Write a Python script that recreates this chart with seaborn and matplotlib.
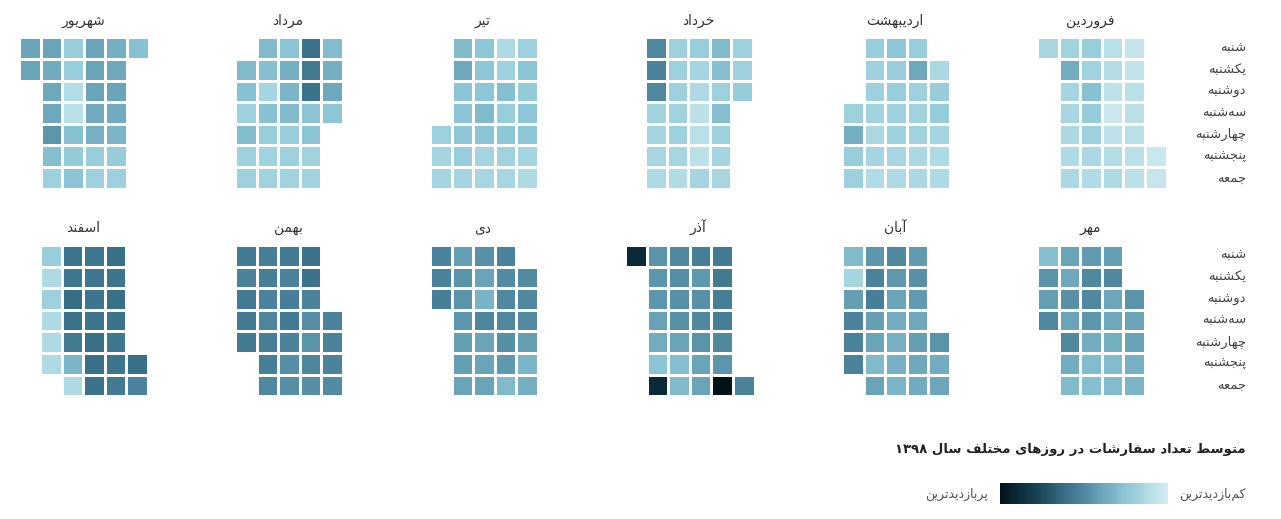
import re
import numpy as np
import matplotlib
matplotlib.use("Agg")
import matplotlib.pyplot as plt
import seaborn as sns
from matplotlib.colors import LinearSegmentedColormap, Normalize
from matplotlib.cm import ScalarMappable

N = None

# data: one grid per month, 7 weekday rows, columns as drawn (weeks run right to left)
# values are a 0-100 index, 0 = least visited, 100 = most visited
months = ["فروردین", "اردیبهشت", "خرداد", "تیر", "مرداد", "شهریور",
          "مهر", "آبان", "آذر", "دی", "بهمن", "اسفند"]
weekdays = ["شنبه", "یکشنبه", "دوشنبه", "سه‌شنبه", "چهارشنبه", "پنجشنبه", "جمعه"]

farvardin = [[15, 17, 20, 10, 6, N],
             [N, 36, 17, 11, 7, N],
             [N, 16, 27, 8, 10, N],
             [N, 15, 21, 4, 9, N],
             [N, 14, 18, 8, 10, N],
             [N, 13, 14, 11, 9, 4],
             [N, 14, 12, 13, 9, 5]]
ordibehesht = [[N, 20, 25, 20, N],
               [N, 18, 20, 38, 14],
               [N, 18, 20, 18, 21],
               [18, 17, 18, 17, 21],
               [35, 14, 18, 17, 16],
               [20, 16, 15, 14, 13],
               [18, 12, 13, 14, 13]]
khordad = [[50, 18, 20, 30, 18],
           [52, 18, 16, 28, 18],
           [50, 18, 13, 18, 21],
           [17, 17, 9, 28, N],
           [16, 18, 10, 18, N],
           [15, 15, 9, 16, N],
           [13, 12, 16, 15, N]]
tir = [[N, 30, 25, 13, 18],
       [N, 38, 25, 18, 26],
       [N, 26, 25, 28, 22],
       [N, 26, 30, 20, 25],
       [18, 25, 26, 25, 25],
       [16, 20, 16, 17, 16],
       [16, 16, 15, 15, 13]]
mordad = [[N, 30, 26, 60, 29],
          [30, 28, 35, 57, 35],
          [27, 16, 32, 60, 38],
          [18, 27, 30, 26, 25],
          [29, 20, 20, 26, N],
          [18, 17, 18, 17, N],
          [18, 17, 17, 17, N]]
shahrivar = [[40, 40, 20, 40, 35, 27],
             [40, 37, 20, 40, 38, N],
             [N, 38, 11, 40, 40, N],
             [N, 38, 10, 37, 37, N],
             [N, 45, 27, 34, 32, N],
             [N, 28, 22, 20, 21, N],
             [N, 18, 26, 18, 18, N]]
mehr = [[28, 40, 43, 42, N],
        [46, 38, 50, 50, N],
        [42, 47, 50, 39, 46],
        [50, 40, 45, 38, 40],
        [N, 50, 36, 35, 41],
        [N, 36, 29, 29, 34],
        [N, 30, 28, 29, 32]]
aban = [[30, 45, 50, 43, N],
        [16, 52, 44, 47, N],
        [42, 54, 40, 43, N],
        [52, 42, 36, 38, N],
        [52, 40, 34, 42, 46],
        [52, 30, 34, 38, 36],
        [N, 40, 32, 37, 39]]
azar = [[90, 46, 50, 55, 56, N],
        [N, 45, 48, 44, 57, N],
        [N, 45, 47, 47, 55, N],
        [N, 41, 47, 50, 54, N],
        [N, 36, 40, 46, 50, N],
        [N, 26, 28, 40, 45, N],
        [N, 90, 30, 40, 100, 52]]
dey = [[52, 42, 47, 52, N],
       [52, 46, 40, 49, 49],
       [54, 46, 33, 50, 50],
       [N, 45, 51, 50, 49],
       [N, 42, 40, 48, 42],
       [N, 42, 40, 44, 32],
       [N, 40, 40, 30, 35]]
bahman = [[56, 54, 56, 60, N],
          [52, 54, 52, 60, N],
          [56, 52, 54, 52, N],
          [56, 51, 56, 48, 52],
          [56, 54, 52, 46, 52],
          [N, 54, 48, 51, 52],
          [N, 50, 48, 48, 49]]
esfand = [[20, 59, 58, 61, N],
          [13, 58, 58, 59, N],
          [18, 62, 59, 61, N],
          [13, 60, 59, 60, N],
          [13, 57, 61, 58, N],
          [13, 32, 61, 59, 61],
          [N, 13, 60, 56, 52]]

grids = [farvardin, ordibehesht, khordad, tir, mordad, shahrivar,
         mehr, aban, azar, dey, bahman, esfand]

title = "متوسط تعداد سفارشات در روزهای مختلف سال ۱۳۹۸"
low_label = "کم‌بازدیدترین"
high_label = "پربازدیدترین"

# matplotlib has no arabic shaping, so pick presentation forms by hand
# (isolated, final, initial, medial)
FORMS = {
    "ا": ("\uFE8D", "\uFE8E", None, None),
    "آ": ("\uFE81", "\uFE82", None, None),
    "ب": ("\uFE8F", "\uFE90", "\uFE91", "\uFE92"),
    "پ": ("\uFB56", "\uFB57", "\uFB58", "\uFB59"),
    "ت": ("\uFE95", "\uFE96", "\uFE97", "\uFE98"),
    "ج": ("\uFE9D", "\uFE9E", "\uFE9F", "\uFEA0"),
    "چ": ("\uFB7A", "\uFB7B", "\uFB7C", "\uFB7D"),
    "خ": ("\uFEA5", "\uFEA6", "\uFEA7", "\uFEA8"),
    "د": ("\uFEA9", "\uFEAA", None, None),
    "ذ": ("\uFEAB", "\uFEAC", None, None),
    "ر": ("\uFEAD", "\uFEAE", None, None),
    "ز": ("\uFEAF", "\uFEB0", None, None),
    "س": ("\uFEB1", "\uFEB2", "\uFEB3", "\uFEB4"),
    "ش": ("\uFEB5", "\uFEB6", "\uFEB7", "\uFEB8"),
    "ط": ("\uFEC1", "\uFEC2", "\uFEC3", "\uFEC4"),
    "ع": ("\uFEC9", "\uFECA", "\uFECB", "\uFECC"),
    "ف": ("\uFED1", "\uFED2", "\uFED3", "\uFED4"),
    "ک": ("\uFB8E", "\uFB8F", "\uFB90", "\uFB91"),
    "ل": ("\uFEDD", "\uFEDE", "\uFEDF", "\uFEE0"),
    "م": ("\uFEE1", "\uFEE2", "\uFEE3", "\uFEE4"),
    "ن": ("\uFEE5", "\uFEE6", "\uFEE7", "\uFEE8"),
    "ه": ("\uFEE9", "\uFEEA", "\uFEEB", "\uFEEC"),
    "و": ("\uFEED", "\uFEEE", None, None),
    "ی": ("\uFBFC", "\uFBFD", "\uFBFE", "\uFBFF"),
}


def rtl(text):
    out = []
    for i, ch in enumerate(text):
        if ch not in FORMS:
            out.append("" if ch == "\u200c" else ch)
            continue
        prev = text[i - 1] if i > 0 else None
        nxt = text[i + 1] if i + 1 < len(text) else None
        jp = prev in FORMS and FORMS[prev][2] is not None
        jn = nxt in FORMS and FORMS[ch][2] is not None
        iso, fin, ini, med = FORMS[ch]
        out.append(med if (jp and jn) else fin if jp else ini if jn else iso)
    s = "".join(out)[::-1]
    return re.sub("[۰-۹0-9]+", lambda m: m.group(0)[::-1], s)


sns.set_style("white")
plt.rcParams["font.family"] = ["DejaVu Sans"]

cmap = LinearSegmentedColormap.from_list("visits", [
    (0.00, "#d4ecf1"), (0.10, "#b8dfe7"), (0.18, "#9dd1dd"), (0.25, "#8dc6d6"),
    (0.30, "#80b9cb"), (0.40, "#6aa4b9"), (0.50, "#4f889f"), (0.60, "#3a738b"),
    (0.75, "#1d4a5c"), (0.90, "#0a2a3a"), (1.00, "#03111a")])

W, H = 1281, 519
fig = plt.figure(figsize=(W / 100, H / 100), dpi=100)

CELL = 21.6
# left edge of each month's first column (px), title centre (px), top of grid (px)
left_px = [1037, 842, 645, 430, 235, 19,
           1037, 842, 625, 430, 235, 40]
slot_cx = [1090, 895, 698, 483, 288, 83]
top_px = [37.5, 245.0]

for i, (name, grid) in enumerate(zip(months, grids)):
    data = np.array([[np.nan if v is None else v for v in row] for row in grid], dtype=float)
    ncol = data.shape[1]
    r = i // 6
    x0, y0 = left_px[i], top_px[r]
    ax = fig.add_axes([x0 / W, 1 - (y0 + 7 * CELL) / H, ncol * CELL / W, 7 * CELL / H])
    sns.heatmap(data, mask=np.isnan(data), cmap=cmap, vmin=0, vmax=100, cbar=False,
                linewidths=0.8, linecolor="white", xticklabels=False, yticklabels=False, ax=ax)
    ax.set_xlabel("")
    ax.set_ylabel("")
    fig.text(slot_cx[i % 6] / W, 1 - (y0 - 17) / H, rtl(name), ha="center", va="center",
             fontsize=10, color="#333333")

    if i % 6 == 0:
        for k, day in enumerate(weekdays):
            fig.text(1246 / W, 1 - (y0 + (k + 0.5) * CELL) / H, rtl(day), ha="right",
                     va="center", fontsize=9.5, color="#444444")

fig.text(1246 / W, 1 - 450 / H, rtl(title), ha="right", va="center",
         fontsize=9.5, fontweight="bold", color="#222222")

cax = fig.add_axes([1000 / W, 1 - 504 / H, 168 / W, 21 / H])
cb = fig.colorbar(ScalarMappable(norm=Normalize(0, 100), cmap=cmap), cax=cax,
                  orientation="horizontal")
cax.invert_xaxis()
cb.set_ticks([])
cb.outline.set_visible(False)
fig.text(1246 / W, 1 - 494 / H, rtl(low_label), ha="right", va="center",
         fontsize=9, color="#555555")
fig.text(988 / W, 1 - 494 / H, rtl(high_label), ha="right", va="center",
         fontsize=9, color="#555555")

fig.savefig("out.png", dpi=100, facecolor="white")
